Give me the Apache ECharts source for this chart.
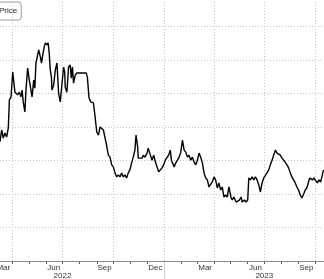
<!DOCTYPE html>
<html><head><meta charset="utf-8">
<script src="https://cdn.jsdelivr.net/npm/echarts@6/dist/echarts.min.js"></script>
<style>html,body{margin:0;padding:0;background:#fff}#c{width:324px;height:279px}</style>
</head><body><div id="c"></div>
<script>
const dates = [
'2022-03-10','2022-03-13','2022-03-16','2022-03-19','2022-03-22','2022-03-25','2022-03-27','2022-03-30',
'2022-04-02','2022-04-06','2022-04-11','2022-04-14','2022-04-17','2022-04-19','2022-04-21','2022-04-24','2022-04-26','2022-04-29',
'2022-05-02','2022-05-05','2022-05-07','2022-05-10','2022-05-12','2022-05-14','2022-05-19','2022-05-22','2022-05-24','2022-05-27','2022-05-29','2022-05-31',
'2022-06-03','2022-06-05','2022-06-07','2022-06-09','2022-06-11','2022-06-12','2022-06-15','2022-06-18','2022-06-21','2022-06-24','2022-06-27','2022-06-30',
'2022-07-03','2022-07-05','2022-07-06','2022-07-09','2022-07-12','2022-07-15','2022-07-17','2022-07-19','2022-07-21','2022-07-24','2022-07-27',
'2022-08-02','2022-08-08','2022-08-13','2022-08-15','2022-08-18','2022-08-21','2022-08-26','2022-08-29',
'2022-09-01','2022-09-04','2022-09-07','2022-09-10','2022-09-13','2022-09-18','2022-09-22','2022-09-25','2022-09-28',
'2022-10-01','2022-10-04','2022-10-07','2022-10-10','2022-10-13','2022-10-16','2022-10-19','2022-10-22','2022-10-25','2022-10-28','2022-10-31',
'2022-11-03','2022-11-06','2022-11-09','2022-11-11','2022-11-14','2022-11-15','2022-11-18','2022-11-22','2022-11-24','2022-11-27',
'2022-12-01','2022-12-03','2022-12-07','2022-12-10','2022-12-13','2022-12-16','2022-12-19','2022-12-22','2022-12-25','2022-12-28','2022-12-31',
'2023-01-03','2023-01-06','2023-01-09','2023-01-12','2023-01-14','2023-01-17','2023-01-19','2023-01-22','2023-01-25','2023-01-28','2023-01-31',
'2023-02-03','2023-02-06','2023-02-09','2023-02-12','2023-02-15','2023-02-18','2023-02-21','2023-02-24','2023-02-27',
'2023-03-02','2023-03-05','2023-03-08','2023-03-11','2023-03-14','2023-03-17','2023-03-20','2023-03-23','2023-03-26','2023-03-29',
'2023-04-01','2023-04-04','2023-04-07','2023-04-10','2023-04-13','2023-04-16','2023-04-19','2023-04-22','2023-04-25','2023-04-28',
'2023-05-02','2023-05-04','2023-05-07','2023-05-11','2023-05-13','2023-05-17','2023-05-20','2023-05-22','2023-05-26','2023-05-29',
'2023-06-01','2023-06-03','2023-06-06','2023-06-09','2023-06-12','2023-06-15','2023-06-18','2023-06-21','2023-06-24','2023-06-27','2023-06-30',
'2023-07-03','2023-07-06','2023-07-09','2023-07-12','2023-07-15','2023-07-18','2023-07-21','2023-07-24','2023-07-27','2023-07-30',
'2023-08-02','2023-08-05','2023-08-08','2023-08-11','2023-08-14','2023-08-17','2023-08-20','2023-08-23','2023-08-26','2023-08-29',
'2023-09-01','2023-09-04','2023-09-07','2023-09-11','2023-09-13','2023-09-16','2023-09-20','2023-09-22','2023-09-26','2023-09-29',
'2023-10-01','2023-10-05','2023-10-08','2023-10-11','2023-10-14','2023-10-16'
];
const prices = [
35.6,39.1,36.7,38.2,37.0,39.7,48.1,49.0,
56.4,50.4,49.6,50.4,49.0,51.0,47.5,44.5,51.0,57.6,
54.0,51.0,49.0,54.0,51.6,59.1,63.0,60.9,59.1,62.1,63.9,65.1,
64.5,65.1,62.1,57.0,54.9,51.0,52.5,57.0,59.1,50.1,47.5,47.2,
57.9,56.4,51.9,50.4,57.9,58.5,54.6,57.9,53.1,55.5,56.1,
56.1,56.1,56.1,54.9,48.7,47.5,47.2,43.0,
38.5,37.6,40.0,40.0,39.1,35.2,31.6,31.0,28.7,
28.1,26.3,25.1,25.7,25.1,26.3,25.1,25.7,24.8,26.3,27.2,
29.3,31.0,33.1,37.6,34.0,30.7,31.0,30.7,31.6,31.0,
32.2,33.7,31.6,30.1,31.6,29.6,29.3,26.6,26.6,27.8,28.7,
30.1,29.6,31.6,33.1,30.1,29.6,28.1,29.3,30.1,31.0,32.5,
36.1,33.1,32.5,31.0,31.6,30.1,31.0,29.6,28.7,
30.1,32.2,31.0,29.3,26.3,24.8,24.2,22.1,21.8,23.6,
25.1,24.2,21.8,23.3,21.2,22.1,19.1,19.7,19.1,22.1,
18.8,18.2,19.1,17.6,17.3,18.2,19.1,17.6,18.2,17.6,
18.2,24.8,24.2,25.1,24.2,25.1,24.2,22.7,20.6,23.3,24.8,
25.1,26.3,27.2,28.7,30.1,31.6,33.1,32.2,32.5,31.6,
30.7,30.1,29.6,28.7,27.8,26.3,25.1,24.2,23.3,22.1,
21.2,19.7,18.8,20.3,21.2,21.8,24.2,24.8,24.2,24.8,
24.2,23.3,24.2,23.6,25.7,27.2
];
const monthLabels = ['Mar','Jun','Sep','Dec','Mar','Jun','Sep'];
const monthLabelDates = ['2022-03-16','2022-06-15','2022-09-15','2022-12-16','2023-03-16','2023-06-15','2023-09-15'];
const yearLabels = ['2022','2023'];
const yearLabelDates = ['2022-07-01','2023-07-01'];
const yearDividerDates = ['2023-01-01'];
const gridDates = ['2022-04-01','2022-07-01','2022-10-01','2023-01-01','2023-04-01','2023-07-01','2023-10-01'];
const monthTickDates = ['2022-04-01','2022-05-01','2022-06-01','2022-07-01','2022-08-01','2022-09-01','2022-10-01','2022-11-01','2022-12-01',
'2023-01-01','2023-02-01','2023-03-01','2023-04-01','2023-05-01','2023-06-01','2023-07-01','2023-08-01','2023-09-01','2023-10-01'];
const axisStart = '2022-03-10', axisEnd = '2023-10-17';

function ts(s){ const p = s.split('-').map(Number); return Date.UTC(p[0], p[1]-1, p[2]); }
const monthTs = monthLabelDates.map(ts), yearTs = yearLabelDates.map(ts);
const FONT = 'Liberation Sans';
const common = { type:'value', min: ts(axisStart), max: ts(axisEnd), position:'bottom', offset:1, scale:true };

const chart = echarts.init(document.getElementById('c'), null, {renderer:'canvas'});
chart.setOption({
  animation:false,
  backgroundColor:'#fff',
  grid:{left:0, right:0, top:-7, bottom:18, containLabel:false, outerBoundsMode:'none'},
  legend:{
    data:['Price'], left:-24, top:2, orient:'horizontal',
    itemWidth:14, itemHeight:8, itemGap:5,
    padding:[5,4,5,3],
    borderColor:'#9a9a9a', borderWidth:1, borderRadius:3,
    textStyle:{fontFamily:FONT, fontSize:8, color:'#222'}
  },
  xAxis:[
    Object.assign({}, common, {
      axisLine:{show:true, lineStyle:{color:'#888', width:1}},
      axisTick:{show:false, customValues: gridDates.map(ts)},
      splitLine:{show:true, lineStyle:{color:'#c8c8c8', type:[1,2], width:1}},
      axisLabel:{customValues: monthTs, margin:1.5, fontFamily:FONT, fontSize:8, color:'#333',
        formatter:(v)=>{ const i = monthTs.indexOf(+v); return i>=0 ? monthLabels[i] : ''; }}
    }),
    Object.assign({}, common, {
      axisLine:{show:false},
      axisTick:{show:true, customValues: monthTickDates.map(ts), length:2, lineStyle:{color:'#555', width:1}},
      splitLine:{show:false},
      axisLabel:{show:false}
    }),
    Object.assign({}, common, {
      axisLine:{show:false},
      axisTick:{show:true, customValues: yearDividerDates.map(ts), length:17, lineStyle:{color:'#cfcfcf', width:1}},
      splitLine:{show:false},
      axisLabel:{customValues: yearTs, margin:9.5, fontFamily:FONT, fontSize:8, color:'#333',
        formatter:(v)=>{ const i = yearTs.indexOf(+v); return i>=0 ? yearLabels[i] : ''; }}
    })
  ],
  yAxis:{
    type:'value', min:0, max:80, interval:10, position:'right',
    axisLine:{show:false}, axisTick:{show:false}, axisLabel:{show:false},
    splitLine:{show:true, lineStyle:{color:'#c8c8c8', type:[1,2], width:1}}
  },
  series:[{
    name:'Price', type:'line', xAxisIndex:0, showSymbol:false, symbol:'none',
    lineStyle:{color:'#000', width:1.4}, itemStyle:{color:'#000'},
    data: dates.map((d,i)=>[ts(d), prices[i]])
  }]
});
</script></body></html>
